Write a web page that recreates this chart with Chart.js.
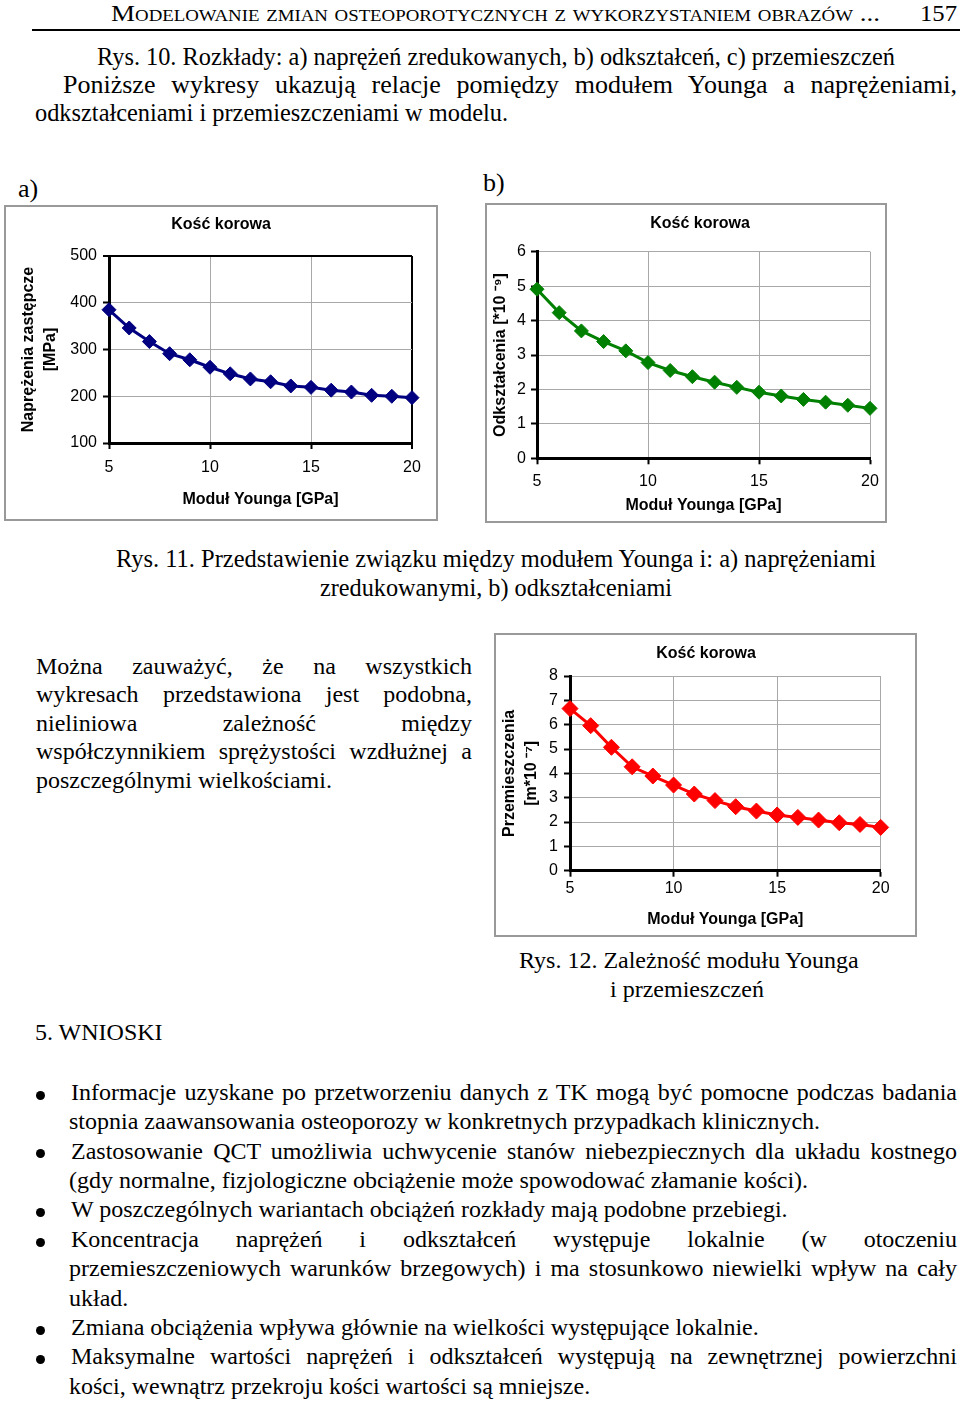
<!DOCTYPE html>
<html>
<head>
<meta charset="utf-8">
<script src="https://cdn.jsdelivr.net/npm/chart.js@4.4.1/dist/chart.umd.min.js"></script>
<style>
html, body { margin: 0; padding: 0; background: #fff; }
#page { position: relative; width: 960px; height: 1401px; overflow: hidden; font-family: "Liberation Serif", "Times New Roman", serif; color: #000; }
.ln { position: absolute; font-size: 24px; line-height: 29px; white-space: nowrap; transform-origin: 0 0; }
.frame { position: absolute; border: 2px solid #999; box-sizing: border-box; }
.dot { position: absolute; width: 9px; height: 9px; border-radius: 50%; background: #000; }
.rule { position: absolute; left: 32px; top: 29px; width: 928px; height: 2px; background: #000; }
canvas { position: absolute; }
</style>
</head>
<body>
<div id="page">
  <div class="rule"></div>
  <div class="frame" style="left:4px;top:205px;width:434px;height:316px"></div>
  <div class="frame" style="left:485px;top:203px;width:402px;height:320px"></div>
  <div class="frame" style="left:494px;top:633px;width:423px;height:304px"></div>
  <canvas id="chartA" width="430" height="312" style="left:6px;top:207px"></canvas>
  <canvas id="chartB" width="406" height="316" style="left:487px;top:205px"></canvas>
  <canvas id="chartC" width="419" height="300" style="left:496px;top:635px"></canvas>
</div>
<script>
// Young's modulus [GPa] on the x axis, shared by all three plots
var youngModulus = [5, 6, 7, 8, 9, 10, 11, 12, 13, 14, 15, 16, 17, 18, 19, 20];
var xTicks = [5, 10, 15, 20];

// a) reduced stress [MPa]
var stressMPa = [385, 346, 317, 291, 278, 262, 248, 237, 231, 222, 219, 213, 209, 202, 200, 197];
// b) strain [*10^-9]
var strain = [4.91, 4.23, 3.70, 3.39, 3.12, 2.78, 2.55, 2.37, 2.21, 2.06, 1.92, 1.81, 1.71, 1.63, 1.54, 1.45];
// c) displacement [m*10^-7]
var displacement = [6.66, 5.96, 5.07, 4.27, 3.89, 3.52, 3.15, 2.88, 2.63, 2.45, 2.29, 2.19, 2.08, 1.97, 1.90, 1.78];

var FONT = 'Arial, "Liberation Sans", sans-serif';
var GRID = '#a8a8a8';

function makeChart(id, ys, color, yMin, yMax, yStep, yTitle, g) {
    var points = youngModulus.map(function(x, i) { return {x: x, y: ys[i]}; });
    // the outermost grid line closes the plot box; chart a has it black
    function gridColor(max) {
        return function(c) { return (c.tick && c.tick.value === max) ? g.boxColor : GRID; };
    }
    function gridWidth(max) {
        return function(c) { return (c.tick && c.tick.value === max && g.boxColor !== GRID) ? 2 : 1; };
    }
    var scales = {
        x: {
            type: 'linear',
            min: 5,
            max: 20,
            afterBuildTicks: function(s) { s.ticks = xTicks.map(function(v) { return {value: v}; }); },
            afterFit: function(s) { s.height = g.xh; },
            grid: {color: gridColor(20), lineWidth: gridWidth(20), tickColor: '#000', tickLength: 6, tickWidth: 2},
            border: {color: '#000', width: 3},
            ticks: {color: '#000', font: {family: FONT, size: 16}, padding: g.xtp, maxRotation: 0},
            title: {
                display: true,
                text: 'Moduł Younga [GPa]',
                color: '#000',
                font: {family: FONT, size: 16, weight: 'bold', lineHeight: 1.2},
                padding: {top: 0, bottom: g.xtb}
            }
        },
        y: {
            min: yMin,
            max: yMax,
            afterFit: function(s) { s.width = g.yw; },
            grid: {color: gridColor(yMax), lineWidth: gridWidth(yMax), tickColor: '#000', tickLength: 6, tickWidth: 2},
            border: {color: '#000', width: 3},
            ticks: {stepSize: yStep, color: '#000', font: {family: FONT, size: 16}, padding: g.ytp},
            title: {
                display: true,
                text: yTitle,
                color: '#000',
                font: {family: FONT, size: 16, weight: 'bold', lineHeight: 1.375},
                padding: {top: g.ytt, bottom: 0}
            }
        }
    };
    if (g.rightW) {
        // empty spacer on the right so the chart title can sit off-centre
        scales.spacer = {
            type: 'linear',
            position: 'right',
            grid: {display: false},
            ticks: {display: false},
            border: {display: false},
            afterFit: function(s) { s.width = g.rightW; }
        };
    }
    return new Chart(document.getElementById(id), {
        type: 'line',
        data: {
            datasets: [{
                data: points,
                borderColor: color,
                backgroundColor: color,
                borderWidth: 3,
                pointStyle: 'rectRot',
                pointRadius: g.pr,
                pointBorderWidth: 1,
                tension: 0,
                clip: false
            }]
        },
        options: {
            responsive: false,
            animation: false,
            devicePixelRatio: 1,
            layout: {padding: {left: g.padLeft, right: g.padRight, top: 0, bottom: 0}},
            plugins: {
                legend: {display: false},
                tooltip: {enabled: false},
                title: {
                    display: true,
                    text: 'Kość korowa',
                    color: '#000',
                    font: {family: FONT, size: 16, weight: 'bold', lineHeight: 1.2},
                    padding: {top: g.titleTop, bottom: g.titleBottom}
                }
            },
            scales: scales
        }
    });
}

// padLeft moves the centre of the chart title; the y title padding pulls the label back out
makeChart('chartA', stressMPa, '#000080', 100, 500, 100, ['Naprężenia zastępcze', '[MPa]'],
    {pr: 7, padLeft: 24, padRight: 24, titleTop: 8.4, titleBottom: 21.4, xh: 76, xtp: 8.8, xtb: 10.1,
     yw: 79, ytp: 6, ytt: -12.7, boxColor: '#000'});
makeChart('chartB', strain, '#008000', 0, 6, 1, 'Odkształcenia [*10 ⁻⁹]',
    {pr: 7, padLeft: 20, padRight: 0, rightW: 23, titleTop: 9.4, titleBottom: 18.1, xh: 62.7, xtp: 7.8, xtb: 5.4,
     yw: 30, ytp: 5, ytt: -17.3, boxColor: GRID});
makeChart('chartC', displacement, '#ff0000', 0, 8, 1, ['Przemieszczenia', '[m*10 ⁻⁷]'],
    {pr: 8, padLeft: 35.3, padRight: 34.3, titleTop: 9.4, titleBottom: 12.4, xh: 64.3, xtp: 2.5, xtb: 5.4,
     yw: 38.7, ytp: 6, ytt: -32.3, boxColor: GRID});

// page text, one entry per printed line
var page = document.getElementById('page');
var lines = [
    {t: 'Modelowanie zmian osteoporotycznych z wykorzystaniem obrazów ...', x: 111, w: 769, b: 22, fs: 23, sc: true, fit: true},
    {t: '157', x: 920, w: 37, b: 22, fs: 23, fit: true},
    {t: 'Rys. 10. Rozkłady: a) naprężeń zredukowanych, b) odkształceń, c) przemieszczeń', x: 97, w: 798, b: 65, fs: 26, fit: true},
    {t: 'Poniższe wykresy ukazują relacje pomiędzy modułem Younga a naprężeniami,', x: 63, w: 894, b: 93, fs: 26, just: true},
    {t: 'odkształceniami i przemieszczeniami w modelu.', x: 35, w: 473, b: 121.5, fs: 26, fit: true},
    {t: 'a)', x: 18, b: 197, fs: 26},
    {t: 'b)', x: 483, b: 191, fs: 26},
    {t: 'Rys. 11. Przedstawienie związku między modułem Younga i: a) naprężeniami', x: 116, w: 760, b: 567.5, fs: 26, fit: true},
    {t: 'zredukowanymi, b) odkształceniami', x: 320, w: 352, b: 596.5, fs: 26, fit: true},
    {t: 'Można zauważyć, że na wszystkich', x: 36, w: 436, b: 674.5, just: true},
    {t: 'wykresach przedstawiona jest podobna,', x: 36, w: 436, b: 703, just: true},
    {t: 'nieliniowa zależność między', x: 36, w: 436, b: 731.5, just: true},
    {t: 'współczynnikiem sprężystości wzdłużnej a', x: 36, w: 436, b: 760, just: true},
    {t: 'poszczególnymi wielkościami.', x: 36, b: 788.5},
    {t: 'Rys. 12. Zależność modułu Younga', x: 519, b: 969},
    {t: 'i przemieszczeń', x: 610, b: 998},
    {t: '5. WNIOSKI', x: 35, b: 1041},
    {t: 'Informacje uzyskane po przetworzeniu danych z TK mogą być pomocne podczas badania', x: 71, w: 886, b: 1100.7, just: true, dot: true},
    {t: 'stopnia zaawansowania osteoporozy w konkretnych przypadkach klinicznych.', x: 69, b: 1130},
    {t: 'Zastosowanie QCT umożliwia uchwycenie stanów niebezpiecznych dla układu kostnego', x: 71, w: 886, b: 1159.3, just: true, dot: true},
    {t: '(gdy normalne, fizjologiczne obciążenie może spowodować złamanie kości).', x: 69, b: 1188.6},
    {t: 'W poszczególnych wariantach obciążeń rozkłady mają podobne przebiegi.', x: 71, b: 1218, dot: true},
    {t: 'Koncentracja naprężeń i odkształceń występuje lokalnie (w otoczeniu', x: 71, w: 886, b: 1247.5, just: true, dot: true},
    {t: 'przemieszczeniowych warunków brzegowych) i ma stosunkowo niewielki wpływ na cały', x: 69, w: 888, b: 1277, just: true},
    {t: 'układ.', x: 69, b: 1306.3},
    {t: 'Zmiana obciążenia wpływa głównie na wielkości występujące lokalnie.', x: 71, b: 1335.7, dot: true},
    {t: 'Maksymalne wartości naprężeń i odkształceń występują na zewnętrznej powierzchni', x: 71, w: 886, b: 1365, just: true, dot: true},
    {t: 'kości, wewnątrz przekroju kości wartości są mniejsze.', x: 69, b: 1394.4}
];

lines.forEach(function(l) {
    var fs = l.fs || 24;
    var el = document.createElement('div');
    el.className = 'ln';
    el.textContent = l.t;
    el.style.fontSize = fs + 'px';
    el.style.lineHeight = Math.round(fs * 1.2) + 'px';
    if (l.sc) el.style.fontVariant = 'small-caps';
    el.style.left = l.x + 'px';
    // baseline sits at half-leading + ascent (0.891em)
    el.style.top = (l.b - (Math.round(fs * 1.2) - fs * 1.107) / 2 - fs * 0.891) + 'px';
    page.appendChild(el);
    var nat = el.getBoundingClientRect().width;
    if (l.w) {
        if (l.just && nat < l.w) {
            el.style.whiteSpace = 'normal';
            el.style.width = l.w + 'px';
            el.style.textAlign = 'justify';
            el.style.textAlignLast = 'justify';
        } else if (l.fit || l.just) {
            el.style.transform = 'scaleX(' + (l.w / nat) + ')';
        }
    }
    if (l.dot) {
        var d = document.createElement('div');
        d.className = 'dot';
        d.style.left = '36px';
        d.style.top = (l.b - 10) + 'px';
        page.appendChild(d);
    }
});
</script>
</body>
</html>
